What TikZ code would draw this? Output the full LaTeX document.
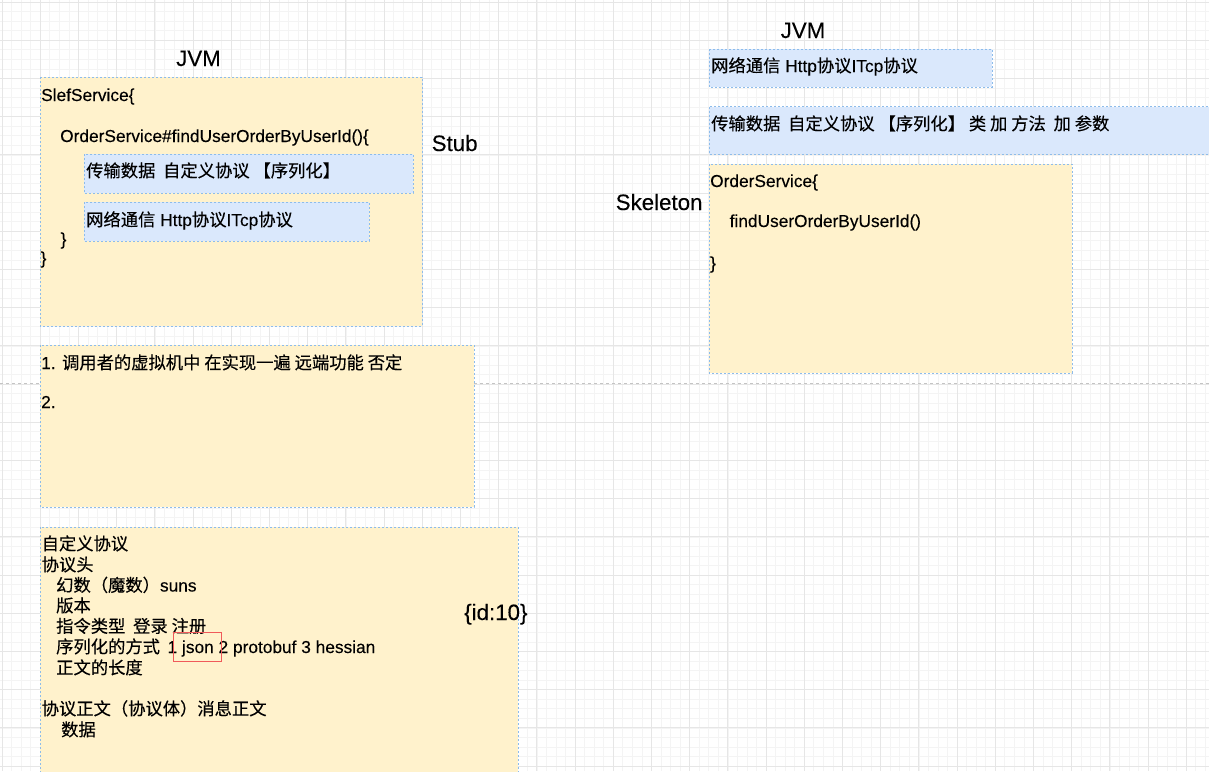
\documentclass[tikz,border=0pt]{standalone}
\usepackage{fontspec}
\setmainfont[FakeBold=0.15]{Liberation Sans}
\newfontfamily\cjk[FakeBold=0.3]{Noto Sans CJK SC}
\definecolor{yel}{HTML}{FFF2CC}
\definecolor{blu}{HTML}{DAE8FC}
\definecolor{edge}{HTML}{8DBCEB}
\definecolor{gminor}{HTML}{F4F4F4}
\definecolor{gmajor}{HTML}{E6E6E6}
\definecolor{pbreak}{HTML}{C4C4C4}
\definecolor{redbox}{HTML}{F05A5A}
\tikzset{
  yelbox/.style={fill=yel, draw=edge, line width=0.9pt, dash pattern=on 2pt off 2pt},
  blubox/.style={fill=blu, draw=edge, line width=0.9pt, dash pattern=on 2pt off 2pt},
  txt/.style={anchor=base west, inner sep=0pt, font=\fontsize{17.3}{20}\selectfont, text=black},
  big/.style={anchor=base west, inner sep=0pt, font=\fontsize{22.3}{26}\selectfont, text=black},
}
\begin{document}
\begin{tikzpicture}[x=1pt,y=-1pt]
\useasboundingbox (0,0) rectangle (1209,771);
\fill[white] (0,0) rectangle (1209,771);
% grid
\foreach \i in {0,...,127} {
  \pgfmathsetmacro\gx{2+9.55*\i}
  \draw[gminor, line width=0.6pt] (\gx,0) -- (\gx,771);
}
\foreach \i in {0,...,81} {
  \pgfmathsetmacro\gy{2+9.55*\i}
  \draw[gminor, line width=0.6pt] (0,\gy) -- (1209,\gy);
}
\foreach \i in {0,...,32} {
  \pgfmathsetmacro\gx{2+38.2*\i}
  \draw[gmajor, line width=0.8pt] (\gx,0) -- (\gx,771);
}
\foreach \i in {0,...,20} {
  \pgfmathsetmacro\gy{2+38.2*\i}
  \draw[gmajor, line width=0.8pt] (0,\gy) -- (1209,\gy);
}
% page break line
\coordinate (pbl) at (0,383.5);
\coordinate (pbr) at (1209,383.5);
\draw[pbreak, line width=0.8pt, dash pattern=on 3pt off 3pt] (pbl) -- (pbr);

% ---------- left: stub side ----------
\node[big] (jvml) at (176,66) {JVM};
\node[big] (stub) at (431.5,151) {Stub};
\path[yelbox] (40,77) rectangle (422,326);
\path[blubox] (84,154) rectangle (413,193);
\path[blubox] (84,202) rectangle (369,241);
\node[txt] (s1) at (41,101) {SlefService\{};
\node[txt] (s2) at (60,142) {OrderService\#findUserOrderByUserId()\{};
\node[txt] (s3) at (86,177) {\cjk 传输数据\ \ 自定义协议 【序列化】};
\node[txt] (s4) at (86,226) {{\cjk 网络通信} Http{\cjk 协议}ITcp{\cjk 协议}};
\node[txt] (s5) at (60.5,245) {\}};
\node[txt] (s6) at (40.5,264) {\}};

\path[yelbox] (40,345) rectangle (474,507);
\node[txt] (n1) at (41,369) {1. {\cjk 调用者的虚拟机中 在实现一遍 远端功能 否定}};
\node[txt] (n2) at (41,408) {2.};

\path[yelbox] (40,527) rectangle (518,775);
\node[txt] (p1) at (41.5,550) {\cjk 自定义协议};
\node[txt] (p2) at (41.5,571) {\cjk 协议头};
\node[txt] (p3) at (56,591.5) {{\cjk 幻数（魔数）}suns};
\node[txt] (p4) at (56,612) {\cjk 版本};
\node[txt] (p5) at (56,632.5) {\cjk 指令类型\ \ 登录 注册};
\node[txt] (p6) at (56,653) {{\cjk 序列化的方式}\ \ \hspace{-2pt}1 json 2 protobuf 3 hessian};
\node[txt] (p7) at (56,674) {\cjk 正文的长度};
\node[txt] (p8) at (41.5,715) {\cjk 协议正文（协议体）消息正文};
\node[txt] (p9) at (61,736) {\cjk 数据};
\node[draw=redbox, line width=0.9pt, minimum width=48pt, minimum height=29pt, inner sep=0pt] (jsonbox) at (197.5,646.5) {};
\node[big] (idten) at (464,620) {\{id:10\}};

% ---------- right: skeleton side ----------
\node[big] (jvmr) at (780.5,38) {JVM};
\path[blubox] (709,49) rectangle (992,87);
\node[txt] (r1) at (711,72) {{\cjk 网络通信} Http{\cjk 协议}ITcp{\cjk 协议}};
\path[blubox] (709,106.5) rectangle (1215,154);
\node[txt] (r2) at (711,130) {\cjk 传输数据\ \ 自定义协议 【序列化】 类 加 方法\ \ 加 参数};
\path[yelbox] (709,164) rectangle (1072,373);
\node[txt] (r3) at (710,187) {OrderService\{};
\node[txt] (r4) at (729.5,227) {findUserOrderByUserId()};
\node[txt] (r5) at (710,269) {\}};
\node[big] (skel) at (615.5,210) {Skeleton};
\end{tikzpicture}
\end{document}
